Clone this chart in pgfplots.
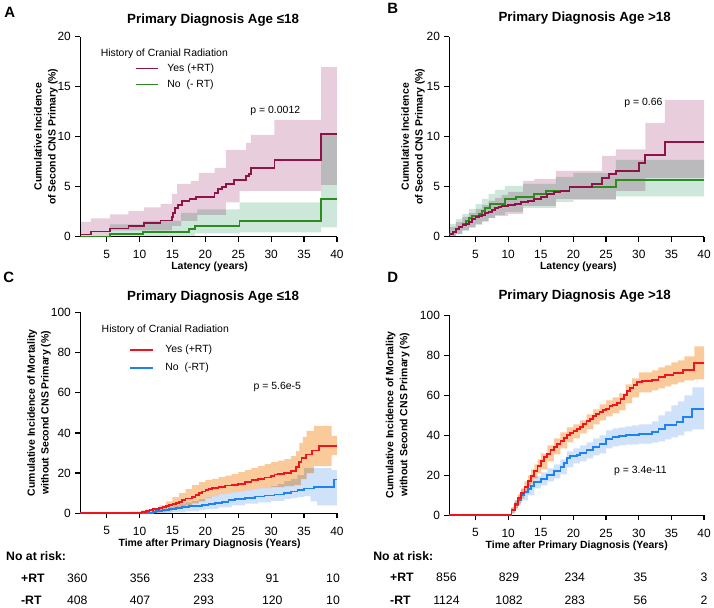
\documentclass[border=0pt]{standalone}
\usepackage{pgfplots}
\pgfplotsset{compat=1.18}
\usepgfplotslibrary{fillbetween}
\usepackage{fontspec}
\setmainfont{Liberation Sans}
\definecolor{rtred}{RGB}{140,20,75}
\definecolor{rtgreen}{RGB}{45,140,30}
\definecolor{bandpink}{RGB}{232,205,220}
\definecolor{bandgreen}{RGB}{205,232,218}
\definecolor{mred}{RGB}{240,20,30}
\definecolor{mblue}{RGB}{30,130,240}
\definecolor{bandorange}{RGB}{250,202,155}
\definecolor{bandblue}{RGB}{208,225,250}
\newcommand\ttl{\fontsize{13.4}{16}\selectfont\bfseries}
\newcommand\lbl{\fontsize{10.5}{14}\selectfont\bfseries}
\newcommand\txt{\fontsize{10.5}{13}\selectfont}
\newcommand\tab{\fontsize{12.3}{14}\selectfont}
\pgfplotsset{gp/.style={
  scale only axis, anchor=south west,
  axis x line*=bottom, axis y line*=left,
  axis line style={line width=1.3pt,-},
  tick align=outside, major tick length=5pt,
  tick style={black, line width=1.3pt},
  xmin=1, xmax=40, ymin=0,
  xtick={5,10,...,40},
  /pgf/number format/assume math mode=true,
  ticklabel style={font=\fontsize{12}{14}\selectfont},
  xticklabel style={yshift=-5pt},
  yticklabel style={xshift=-1pt},
}}
\begin{document}
\begin{tikzpicture}
% ---------------- Panel A
\begin{axis}[gp, at={(80pt,-238pt)}, width=258pt, height=201pt, ymax=20, ytick={0,5,...,20}]
\addplot[draw=none, const plot, forget plot, name path=aru] coordinates {(1,1.5) (2.6,1.85) (5.5,2.25) (8.3,2.6) (10.7,2.95) (13.2,3.3) (14.9,4.3) (15.7,5.3) (17.8,5.6) (19,6.4) (21.4,6.9) (23.1,8.7) (26.2,9.4) (26.9,10.2) (30.5,11.7) (37.6,17.0) (40,17.0)};
\addplot[draw=none, const plot, forget plot, name path=arl] coordinates {(1,0) (5.5,0.65) (14.9,1.1) (16.3,1.6) (18.8,2.2) (23.1,3.45) (25.2,4.6) (37.6,5.2) (40,5.2)};
\addplot[draw=none, const plot, forget plot, name path=agu] coordinates {(1,0.05) (5.5,1.25) (10.5,1.6) (16.3,2.4) (18.8,2.75) (25.2,3.45) (37.6,10.2) (40,10.2)};
\addplot[draw=none, const plot, forget plot, name path=agl] coordinates {(1,0) (17.5,0.1) (18.4,0.35) (25.2,0.45) (37.6,0.93) (40,0.93)};
\addplot[bandpink, blend mode=multiply] fill between[of=aru and arl];
\addplot[bandgreen, blend mode=multiply] fill between[of=agu and agl];
\addplot[const plot, line width=1.7pt, rtgreen] coordinates {(1,0) (5.5,0.25) (10.5,0.5) (17.5,0.75) (18.4,1.1) (25.2,1.55) (37.6,3.75) (40,3.75)};
\addplot[const plot, line width=1.7pt, rtred] coordinates {(1,0.23) (2.6,0.53) (5.5,0.83) (8.3,1.10) (10.7,1.36) (13.2,1.63) (14.9,2.0) (15.1,2.4) (15.4,2.9) (15.8,3.2) (16.5,3.55) (17.6,3.75) (18.6,4.0) (21.4,4.4) (21.9,4.75) (22.5,5.0) (23.1,5.3) (24.4,5.65) (26.2,6.1) (26.6,6.3) (26.9,6.85) (30.5,7.7) (37.6,10.25) (40,10.25)};
\end{axis}
% ---------------- Panel B
\begin{axis}[gp, at={(451pt,-238pt)}, width=256pt, height=201pt, ymax=20, ytick={0,5,...,20}]
\addplot[draw=none, const plot, forget plot, name path=bru] coordinates {(1,1.0) (2,1.5) (3,2.0) (4,2.4) (5,2.8) (6,3.2) (7,3.6) (8,3.9) (9,4.2) (10,4.5) (12.3,5.6) (14,5.8) (17.3,6.6) (24.4,8.1) (26.5,8.75) (31,11.4) (34,13.7) (40,13.7)};
\addplot[draw=none, const plot, forget plot, name path=brl] coordinates {(1,0) (2,0.3) (3,0.7) (4,1.0) (5,1.3) (6,1.6) (7,1.9) (8,2.1) (10,2.3) (12.3,3.1) (17.3,3.8) (26.5,4.6) (31,5.9) (40,5.9)};
\addplot[draw=none, const plot, forget plot, name path=bgu] coordinates {(1,1.3) (2,1.8) (3,2.3) (4,2.8) (5,3.3) (6,3.8) (7,4.3) (8,4.7) (9.5,5.1) (12.3,5.3) (17.3,6.0) (20,6.4) (26.5,7.7) (40,7.7)};
\addplot[draw=none, const plot, forget plot, name path=bgl] coordinates {(1,0) (2,0.3) (3,0.6) (4,0.9) (5,1.2) (6,1.5) (7,1.9) (8,2.2) (9.5,2.5) (12.3,2.9) (17.3,3.5) (20,3.7) (26.5,4.05) (40,4.05)};
\addplot[bandpink, blend mode=multiply] fill between[of=bru and brl];
\addplot[bandgreen, blend mode=multiply] fill between[of=bgu and bgl];
\addplot[const plot, line width=1.7pt, rtgreen] coordinates {(1,0.3) (1.5,0.5) (2,0.8) (2.5,1.0) (3,1.3) (3.5,1.6) (4,1.9) (4.5,2.1) (5.5,2.3) (6,2.6) (6.5,2.9) (7.2,3.3) (9.5,3.8) (11.2,3.95) (14,4.3) (15.8,4.6) (19.4,5.0) (26.5,5.7) (40,5.7)};
\addplot[const plot, line width=1.7pt, rtred] coordinates {(1,0.3) (1.5,0.5) (2,0.8) (2.5,1.0) (3,1.2) (3.5,1.3) (4,1.5) (4.5,1.8) (5,1.95) (5.5,2.05) (6,2.2) (6.5,2.35) (7,2.5) (7.5,2.7) (8,2.85) (8.5,2.95) (9,3.05) (10,3.15) (11,3.3) (12,3.5) (13,3.6) (14,3.75) (15,4.0) (16,4.3) (17,4.5) (18,4.6) (19.4,5.0) (22.8,5.3) (24.4,5.9) (25.4,6.3) (26.5,6.6) (30,7.35) (31,8.15) (34,9.5) (40,9.5)};
\end{axis}
% ---------------- Panel C
\begin{axis}[gp, at={(80pt,-516pt)}, width=258pt, height=202pt, ymax=100, ytick={0,20,...,100}]
\addplot[draw=none, const plot, forget plot, name path=cru] coordinates {(1,0) (8.5,0.8) (10.3,1.5) (11,2) (12,2.5) (13,4) (14,6) (15,8) (16,10) (17,12) (18,14) (19,15.5) (20,16.5) (21,17.2) (22,18) (23,18.8) (24,19.5) (25,20.5) (26,21.5) (27,22.5) (28,23.5) (29,24.5) (30,25.5) (31,26.2) (32,27) (33,28.5) (33.8,31) (34.3,35) (34.8,38) (35.4,41) (36.5,43.5) (39.2,38.5) (40,38.5)};
\addplot[draw=none, const plot, forget plot, name path=crl] coordinates {(1,0) (13,0.5) (14,1) (15,2) (16,3) (17,4) (18,5) (19,6) (20,7.5) (21,8.5) (22,9.5) (23,10) (24,10.5) (25,11) (26,11.5) (27,12) (28,12.5) (30,13) (32,13.5) (33.5,14) (34.5,17) (35.4,20) (36.5,23.5) (39.2,29) (40,29)};
\addplot[draw=none, const plot, forget plot, name path=cbu] coordinates {(1,0) (11,0.3) (12,1.5) (13,2.5) (14,3.3) (15,4) (16,4.8) (17,5.5) (18,6.2) (19,7) (20,7.8) (21,8.6) (22,9.5) (23,10) (24,10.5) (25,11) (26,11.5) (27,12) (28,12.5) (30,13.5) (31,14.5) (32,16) (33,17) (34,19) (35,22.5) (39.2,21.5) (40,21.5)};
\addplot[draw=none, const plot, forget plot, name path=cbl] coordinates {(1,0) (15,0.5) (17,1) (19,1.7) (20,2.2) (22,3) (24,4) (26,4.8) (28,5.5) (30,6.2) (32,7) (33,7.5) (34,8) (35,8.5) (36,6) (37,4) (40,4)};
\addplot[bandorange, blend mode=multiply] fill between[of=cru and crl];
\addplot[bandblue, blend mode=multiply] fill between[of=cbu and cbl];
\addplot[const plot, line width=1.7pt, mblue] coordinates {(1,0) (12,0.5) (12.5,1.0) (13.5,1.5) (14.5,2.0) (15.5,2.5) (16.5,3.0) (17.5,3.5) (19.5,4.0) (20.5,4.5) (21.5,5.0) (22.5,5.8) (23.5,6.5) (24.5,7.2) (26,7.7) (27.5,8.3) (29,8.8) (30.5,9.3) (32,10.0) (33,10.8) (34,11.5) (35,12.3) (36.5,13.0) (39.5,16.8) (40,16.8)};
\addplot[const plot, line width=1.7pt, mred] coordinates {(1,0) (10.3,0.5) (11,1.0) (11.5,1.5) (12,2.0) (13,2.5) (13.5,3.0) (14,3.5) (14.5,4.0) (15,4.5) (15.5,5.0) (16,5.5) (16.5,6.5) (17,7.3) (18,8.0) (18.5,9.0) (19,10.0) (19.5,10.8) (20,11.5) (20.5,12.0) (21,12.5) (22,13.2) (23,13.8) (24,14.2) (25,14.6) (26,15.5) (27,16.5) (28,17.2) (29,17.8) (30,18.5) (30.5,19.3) (31,19.7) (32,20.2) (33,21.2) (33.8,23.0) (34.2,25.5) (34.6,27.5) (35.3,29.3) (36.2,31.2) (37.3,33.5) (40,33.5)};
\end{axis}
% ---------------- Panel D
\begin{axis}[gp, at={(451pt,-518pt)}, width=256pt, height=201pt, ymax=100, ytick={0,20,...,100}]
\addplot[draw=none, const plot, forget plot, name path=dru] coordinates {(1,0) (10,0) (10.5,4) (11,7.5) (11.5,10.5) (12,13.5) (12.5,17) (13,20) (13.5,23) (14,25.5) (14.5,28) (15,31) (16,35) (17,38.5) (18,41.5) (19,44) (20,45.5) (21,47.5) (22,50.5) (23,53) (24,55.5) (25,57.5) (26,59) (27,61) (28,65.5) (29,68.5) (30,71.5) (32,72.5) (33,74) (34,75) (35,76.5) (36,77.5) (37,79.5) (38.5,84.5) (40,84.5)};
\addplot[draw=none, const plot, forget plot, name path=drl] coordinates {(1,0) (10,0) (10.5,1) (11,3.5) (11.5,6) (12,8.5) (12.5,11) (13,14) (13.5,16) (14,18.5) (14.5,21) (15,23) (16,27) (17,30.5) (18,33.5) (19,36.5) (20,38.5) (21,41) (22,43) (23,45.5) (24,47.5) (25,49.5) (26,51) (27,52.5) (28,56) (29,59) (30,61.5) (32,62.5) (33,63.5) (34,64.5) (35,65.5) (36,66.5) (37,67.5) (38.5,68) (40,68)};
\addplot[draw=none, const plot, forget plot, name path=dbu] coordinates {(1,0) (10,0) (10.5,4) (11,7.5) (11.5,10) (12,13) (13,16.5) (14,19.5) (15,21.5) (16,23.5) (17,25.5) (18,28) (19,32) (20,33.5) (21,35) (22,36.5) (23,38.5) (24,40) (25,42.5) (26,43.5) (27,44) (28,44.5) (29,45) (30,45.5) (32,47) (33,50) (34,52) (35,55) (36,57) (37,60) (38.2,64) (40,64)};
\addplot[draw=none, const plot, forget plot, name path=dbl] coordinates {(1,0) (10,0) (10.5,1) (11,3) (11.5,5) (12,7.5) (13,10) (14,13.5) (15,15) (16,17) (17,18.5) (18,20.5) (19,24) (20,26) (21,27) (22,28.5) (23,30) (24,31) (25,33.5) (26,34.5) (27,35) (28,35.3) (29,35.5) (30,35.8) (32,36.3) (33,37) (34,38) (35,39) (36,40) (37,42) (38.2,43) (40,43)};
\addplot[bandorange, blend mode=multiply] fill between[of=dru and drl];
\addplot[bandblue, blend mode=multiply] fill between[of=dbu and dbl];
\addplot[const plot, line width=1.7pt, mblue] coordinates {(1,0) (10,0) (10.5,2.5) (11,5) (11.5,7.5) (12,10) (12.5,11.5) (13,13) (13.5,14.5) (14,16.5) (15,18) (16,20) (17,22) (18,24) (18.5,26) (19,28.5) (19.5,29.5) (20.5,30) (21,31) (22,32.5) (23,34) (24,35.5) (25,38) (26,39) (27,39.5) (28,40) (29,40.3) (30,40.8) (32,41.5) (33,43) (34,45) (35.8,46.5) (36.8,49) (38.2,53) (40,53)};
\addplot[const plot, line width=1.7pt, mred] coordinates {(1,0) (10,0) (10.5,2.5) (11,5.5) (11.5,8.5) (12,11) (12.5,14) (13,17) (13.5,19.5) (14,22) (14.5,24.5) (15,27) (15.5,29) (16,30.5) (16.5,32.5) (17,34) (17.5,35.5) (18,37) (18.5,38.5) (19,40) (19.5,41) (20,42) (20.5,43) (21,44.2) (21.5,45.5) (22,47) (22.5,48.3) (23,49.5) (23.5,50.5) (24,51.5) (24.5,52.5) (25,53.3) (25.5,54.5) (26,55.2) (26.7,56) (27.2,58) (27.7,60) (28.2,62) (28.7,63.5) (29.2,65) (29.7,66.5) (30.5,67.2) (32,67.8) (33,69) (34,70.2) (35.3,71) (36.8,72.8) (38.5,76.3) (40,76.3)};
\end{axis}
% ---------------- Text
\node[anchor=base, font=\fontsize{15}{17}\selectfont\bfseries] at (9pt,-18pt) {A};
\node[anchor=base, font=\fontsize{15}{17}\selectfont\bfseries] at (394pt,-14pt) {B};
\node[anchor=base, font=\fontsize{15}{17}\selectfont\bfseries] at (8pt,-284pt) {C};
\node[anchor=base, font=\fontsize{15}{17}\selectfont\bfseries] at (394pt,-284pt) {D};
\node[anchor=base, font=\ttl] at (213.5pt,-24pt) {Primary Diagnosis Age ≤18};
\node[anchor=base, font=\ttl] at (587pt,-21.5pt) {Primary Diagnosis Age >18};
\node[anchor=base, font=\ttl] at (213.5pt,-302.5pt) {Primary Diagnosis Age ≤18};
\node[anchor=base, font=\ttl] at (587pt,-301pt) {Primary Diagnosis Age >18};
\node[anchor=base, font=\lbl] at (210pt,-271pt) {Latency (years)};
\node[anchor=base, font=\lbl] at (580.7pt,-271pt) {Latency (years)};
\node[anchor=base, font=\lbl] at (210pt,-549pt) {Time after Primary Diagnosis (Years)};
\node[anchor=base, font=\lbl] at (579pt,-551pt) {Time after Primary Diagnosis (Years)};
\node[rotate=90, align=center, font=\lbl] at (45.5pt,-137.5pt) {Cumulative Incidence\\of Second CNS Primary (\%)};
\node[rotate=90, align=center, font=\lbl] at (414.5pt,-137.5pt) {Cumulative Incidence\\of Second CNS Primary (\%)};
\node[rotate=90, align=center, font=\lbl] at (38.5pt,-415pt) {Cumulative Incidence of Mortality\\without Second CNS Primary (\%)};
\node[rotate=90, align=center, font=\lbl] at (399pt,-417pt) {Cumulative Incidence of Mortality\\without Second CNS Primary (\%)};
% legends
\node[anchor=west, font=\txt] at (97pt,-54pt) {History of Cranial Radiation};
\draw[rtred, line width=1.7pt] (136pt,-69pt) -- (158pt,-69pt);
\node[anchor=west, font=\txt] at (164pt,-69pt) {Yes (+RT)};
\draw[rtgreen, line width=1.7pt] (136pt,-85pt) -- (158pt,-85pt);
\node[anchor=west, font=\txt] at (164pt,-85pt) {No\ \ (- RT)};
\node[anchor=west, font=\txt] at (98pt,-332pt) {History of Cranial Radiation};
\draw[mred, line width=1.7pt] (130pt,-352pt) -- (153pt,-352pt);
\node[anchor=west, font=\txt] at (162pt,-352pt) {Yes (+RT)};
\draw[mblue, line width=1.7pt] (130pt,-370pt) -- (153pt,-370pt);
\node[anchor=west, font=\txt] at (162pt,-370pt) {No\ \ (-RT)};
% p values
\node[font=\txt] at (276pt,-112pt) {p = 0.0012};
\node[font=\txt] at (646pt,-103pt) {p = 0.66};
\node[font=\txt] at (278pt,-389pt) {p = 5.6e-5};
\node[font=\txt] at (643pt,-473pt) {p = 3.4e-11};
% at risk tables
\node[anchor=west, font=\tab\bfseries] at (2pt,-559pt) {No at risk:};
\node[anchor=west, font=\tab\bfseries] at (17pt,-581pt) {+RT};
\node[anchor=west, font=\tab\bfseries] at (17pt,-603pt) {-RT};
\foreach \x/\a/\b in {77/360/408, 140/356/407, 204/233/293, 273/91/120, 334/10/10} {
  \node[font=\tab] at (\x pt,-581pt) {\a};
  \node[font=\tab] at (\x pt,-603pt) {\b};
}
\node[anchor=west, font=\tab\bfseries] at (371pt,-559pt) {No at risk:};
\node[anchor=west, font=\tab\bfseries] at (388pt,-580pt) {+RT};
\node[anchor=west, font=\tab\bfseries] at (388pt,-603pt) {-RT};
\foreach \x/\a/\b in {448/856/1124, 511/829/1082, 577/234/283, 643/35/56, 707/3/2} {
  \node[font=\tab] at (\x pt,-580pt) {\a};
  \node[font=\tab] at (\x pt,-603pt) {\b};
}
\path[use as bounding box] (0,0) rectangle (714pt,-610pt);
\end{tikzpicture}
\end{document}
